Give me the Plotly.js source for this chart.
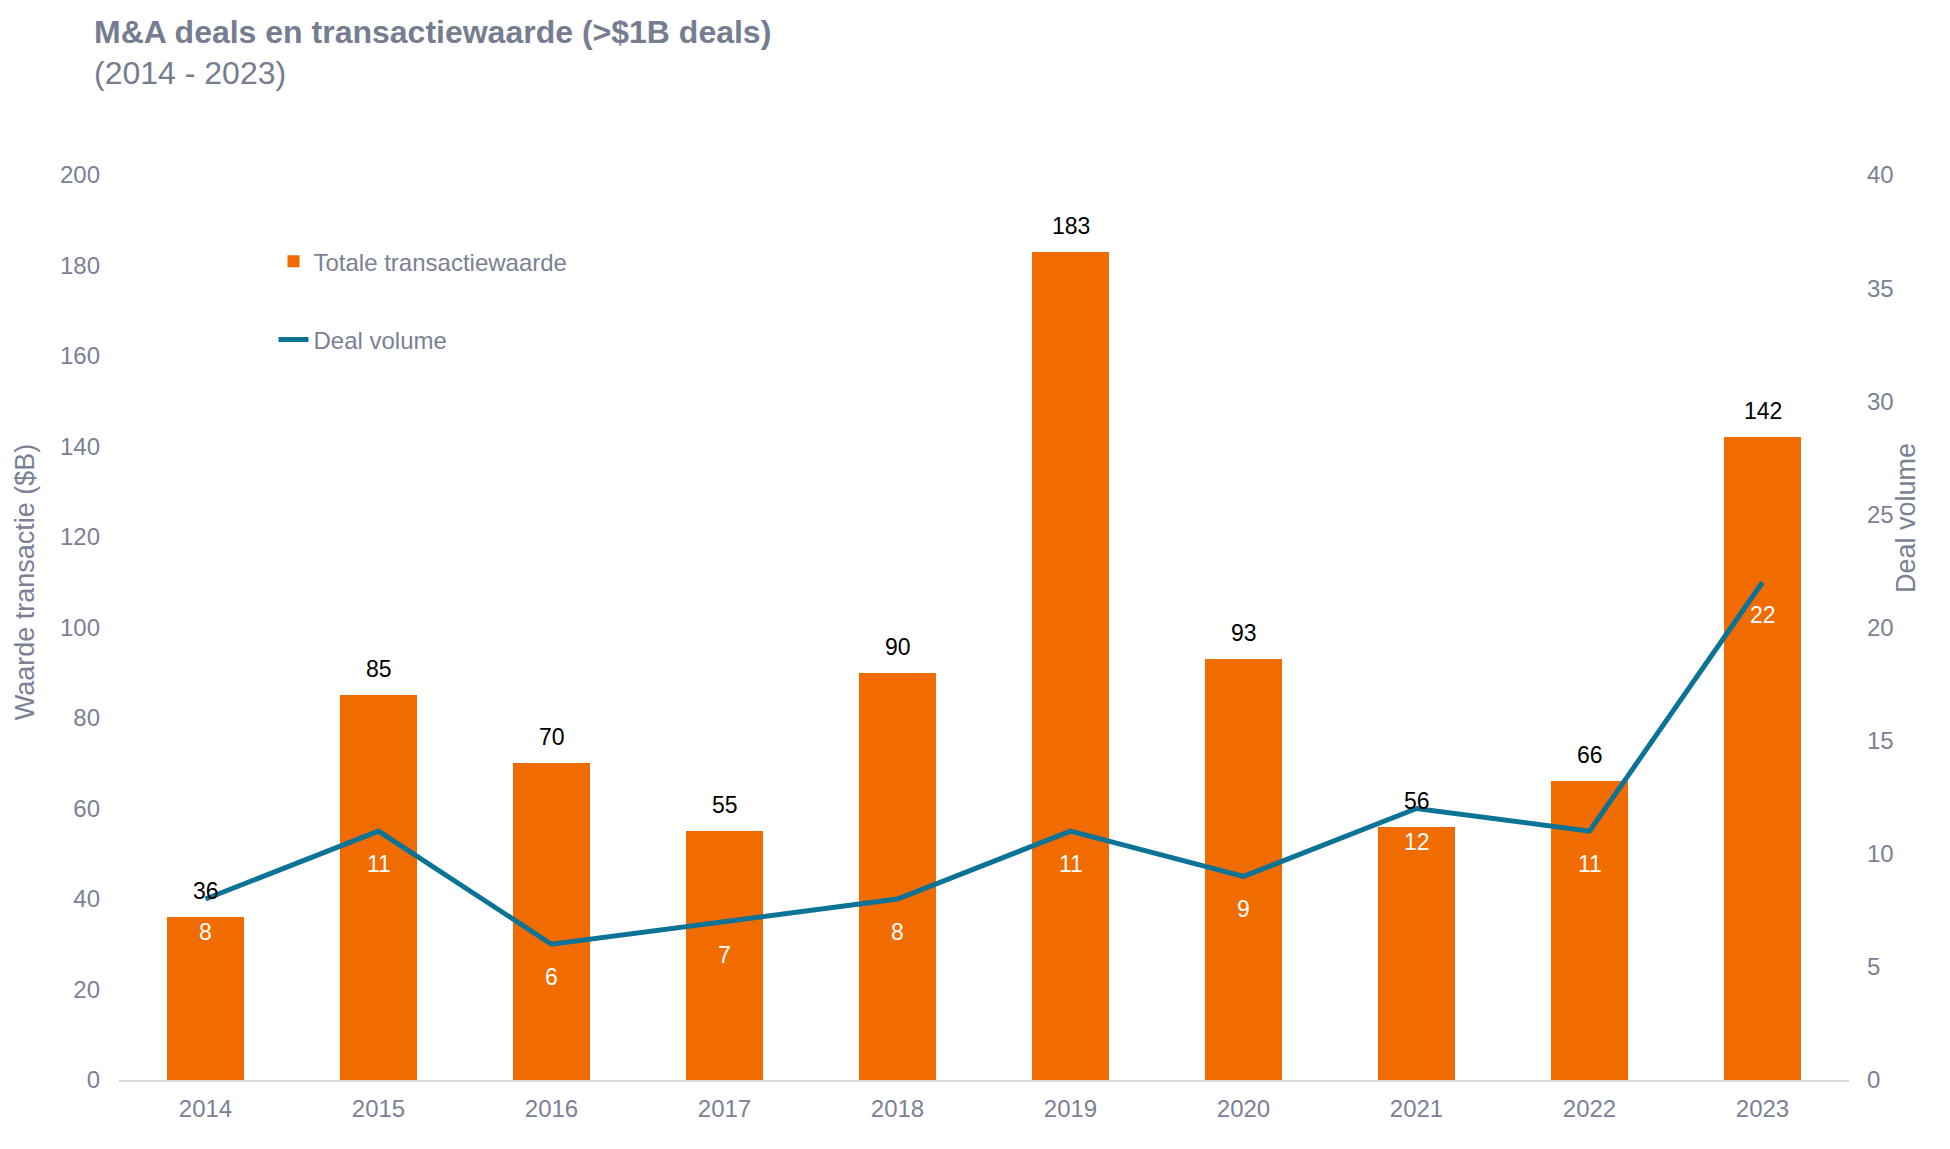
<!DOCTYPE html>
<html>
<head>
<meta charset="utf-8">
<script src="https://cdn.plot.ly/plotly-3.0.1.min.js"></script>
<style>html,body{margin:0;padding:0;background:#fff;}#chart{width:1950px;height:1149px;}</style>
</head>
<body>
<div id="chart"></div>
<script>
// Data
const years = ['2014','2015','2016','2017','2018','2019','2020','2021','2022','2023'];
const dealValue = [36, 85, 70, 55, 90, 183, 93, 56, 66, 142];
const dealVolume = [8, 11, 6, 7, 8, 11, 9, 12, 11, 22];
const leftTicks = [0, 20, 40, 60, 80, 100, 120, 140, 160, 180, 200];
const rightTicks = [0, 5, 10, 15, 20, 25, 30, 35, 40];

const FONT = 'Liberation Sans, Arial, sans-serif';
const GREY = '#7B8195';
const ORANGE = '#F06C00';
const TEAL = '#0B7396';

const traces = [
  {
    type: 'bar', name: 'Totale transactiewaarde', x: years, y: dealValue,
    marker: {color: ORANGE}, width: 0.44, legendgroup: 'a', hoverinfo: 'x+y'
  },
  {
    type: 'scatter', mode: 'lines', name: 'Deal volume', x: years, y: dealVolume,
    yaxis: 'y2', line: {color: TEAL, width: 5}, legendgroup: 'b', hoverinfo: 'x+y'
  }
];

const annotations = [];
years.forEach((yr, i) => {
  annotations.push({x: i, y: dealValue[i], xref: 'x', yref: 'y', text: String(dealValue[i]),
    showarrow: false, yshift: 26, font: {family: FONT, size: 23, color: '#000'}});
  annotations.push({x: i, y: dealVolume[i], xref: 'x', yref: 'y2', text: String(dealVolume[i]),
    showarrow: false, yshift: -33, font: {family: FONT, size: 23, color: '#fff'}});
});
annotations.push({x: -0.0543, y: 0.55, xref: 'paper', yref: 'paper', text: 'Waarde transactie ($B)',
  textangle: -90, showarrow: false, xanchor: 'center', yanchor: 'middle', font: {family: FONT, size: 27, color: GREY}});
annotations.push({x: 1.033, y: 0.621, xref: 'paper', yref: 'paper', text: 'Deal volume',
  textangle: -90, showarrow: false, xanchor: 'center', yanchor: 'middle', font: {family: FONT, size: 27, color: GREY}});

const layout = {
  width: 1950, height: 1149,
  paper_bgcolor: '#fff', plot_bgcolor: '#fff',
  margin: {l: 119, r: 101, t: 175, b: 69},
  font: {family: FONT, color: GREY},
  title: {
    text: '<b>M&A deals en transactiewaarde (>$1B deals)</b><br>(2014 - 2023)',
    x: 94/1950, xref: 'container', xanchor: 'left',
    y: 0.963, yref: 'container', yanchor: 'top',
    font: {family: FONT, size: 32, color: '#767D91'}
  },
  showlegend: true,
  legend: {
    x: 0.0893, y: 0.929, xanchor: 'left', yanchor: 'top',
    traceorder: 'grouped', tracegroupgap: 44,
    font: {family: FONT, size: 24, color: GREY}, bgcolor: 'rgba(0,0,0,0)'
  },
  xaxis: {
    type: 'category', range: [-0.5, 9.5], showgrid: false, zeroline: false,
    showline: true, linecolor: '#D9D9D9', linewidth: 2, ticks: '',
    tickfont: {family: FONT, size: 24, color: GREY}, ticklabelstandoff: 6, fixedrange: true
  },
  yaxis: {
    range: [0, 200], tickvals: leftTicks, showgrid: false, zeroline: false, showline: false, ticks: '',
    tickfont: {family: FONT, size: 24, color: GREY}, ticklabelstandoff: 18
  },
  yaxis2: {
    range: [0, 40], tickvals: rightTicks, overlaying: 'y', side: 'right', showgrid: false, zeroline: false,
    showline: false, ticks: '', tickfont: {family: FONT, size: 24, color: GREY}, ticklabelstandoff: 17
  },
  annotations: annotations,
  bargap: 0
};

Plotly.newPlot('chart', traces, layout, {displayModeBar: false, staticPlot: true});
</script>
</body>
</html>
